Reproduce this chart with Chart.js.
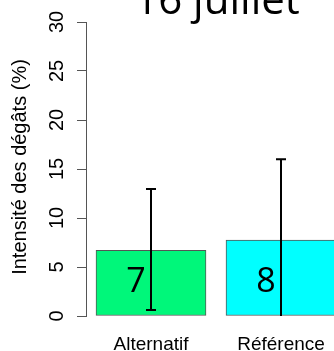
<!DOCTYPE html>
<html>
<head>
<meta charset="utf-8">
<script src="https://cdn.jsdelivr.net/npm/chart.js@4/dist/chart.umd.min.js"></script>
<style>
  html, body { margin: 0; padding: 0; background: #fff; overflow: hidden; }
  canvas { display: block; }
</style>
</head>
<body>
<canvas id="graficoDegats" width="360" height="351"></canvas>
<script>
document.addEventListener('DOMContentLoaded', function() {
    const canvas = document.getElementById('graficoDegats');

    // Données
    const categories = ['Alternatif', 'Référence'];
    const moyennes = [6.7, 7.75];          // hauteur des barres (%)
    const erreurHaut = [12.95, 16.0];       // haut des barres d'erreur
    const erreurBas = [0.6, 0];             // bas des barres d'erreur
    const etiquettes = ['7', '8'];          // valeurs écrites dans les barres
    const couleurs = ['#00F77A', '#00FFFF'];
    const yTicks = [0, 5, 10, 15, 20, 25, 30];

    const titre = '16 juillet';
    const titreAxeY = 'Intensité des dégâts (%)';

    // barres d'erreur + textes
    const pluginDessin = {
        id: 'dessin',
        afterDatasetsDraw(chart) {
            const ctx = chart.ctx;
            const x = chart.scales.x;
            const y = chart.scales.y;

            ctx.save();
            ctx.strokeStyle = '#000';
            ctx.lineWidth = 2;
            for (let i = 0; i < categories.length; i++) {
                const px = x.getPixelForValue(i);
                const top = y.getPixelForValue(erreurHaut[i]);
                const bot = y.getPixelForValue(erreurBas[i]);
                ctx.beginPath();
                ctx.moveTo(px, top);
                ctx.lineTo(px, bot);
                ctx.moveTo(px - 5, top);
                ctx.lineTo(px + 5, top);
                if (erreurBas[i] > 0) {
                    ctx.moveTo(px - 5, bot);
                    ctx.lineTo(px + 5, bot);
                }
                ctx.stroke();
            }

            // chiffres dans les barres
            ctx.fillStyle = '#000';
            ctx.font = '34px "Open Sans"';
            ctx.textAlign = 'center';
            ctx.textBaseline = 'middle';
            for (let i = 0; i < categories.length; i++) {
                const px = x.getPixelForValue(i) - 15;
                ctx.fillText(etiquettes[i], px, y.getPixelForValue(0) - 34);
            }

            // étiquettes de l'axe Y (tournées)
            ctx.font = '20px "Liberation Sans", Arial, sans-serif';
            yTicks.forEach(function(v) {
                ctx.save();
                ctx.translate(57, y.getPixelForValue(v));
                ctx.rotate(-Math.PI / 2);
                ctx.fillText(String(v), 0, 0);
                ctx.restore();
            });

            // titre de l'axe Y
            ctx.save();
            ctx.font = '20px "Liberation Sans", Arial, sans-serif';
            ctx.translate(20, 167);
            ctx.rotate(-Math.PI / 2);
            ctx.fillText(titreAxeY, 0, 0);
            ctx.restore();

            // titre
            ctx.font = '42px "Open Sans"';
            ctx.textBaseline = 'alphabetic';
            ctx.fillText(titre, 217, 14);
            ctx.restore();
        }
    };

    new Chart(canvas.getContext('2d'), {
        type: 'bar',
        data: {
            labels: categories,
            datasets: [{
                data: moyennes,
                backgroundColor: couleurs,
                borderColor: '#555',
                borderWidth: 1,
                borderSkipped: false,
                barThickness: 110
            }]
        },
        options: {
            responsive: false,
            animation: false,
            devicePixelRatio: 1,
            layout: { padding: { top: 22, right: 14, left: 0, bottom: 0 } },
            plugins: {
                legend: { display: false },
                tooltip: { enabled: false },
                title: { display: false }
            },
            scales: {
                x: {
                    offset: true,
                    grid: { display: false },
                    border: { display: false },
                    ticks: {
                        color: '#000',
                        padding: 9,
                        maxRotation: 0,
                        font: { family: '"Liberation Sans", Arial, sans-serif', size: 19 }
                    },
                    afterFit: function(s) { s.height = 35; }
                },
                y: {
                    min: 0,
                    max: 30,
                    afterBuildTicks: function(s) { s.ticks = yTicks.map(v => ({ value: v })); },
                    ticks: { display: false },
                    grid: {
                        drawOnChartArea: false,
                        drawTicks: true,
                        tickLength: 9,
                        color: '#555',
                        lineWidth: 1
                    },
                    border: { display: true, color: '#555', width: 1 },
                    afterFit: function(s) { s.width = 86; }
                }
            }
        },
        plugins: [pluginDessin]
    });
});
</script>
</body>
</html>
